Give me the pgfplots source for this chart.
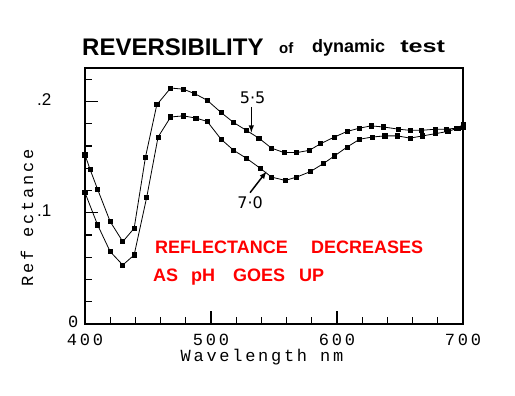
\documentclass[border=0pt]{standalone}
\usepackage{pgfplots}
\pgfplotsset{compat=1.18}
\usepackage{pgfplotstable}
\usepackage{fontspec}
\setmainfont{Liberation Sans}
\newfontfamily\dotfont[LetterSpace=16]{Liberation Mono}
\newfontfamily\numfont{DejaVu Sans}
\pgfplotstableread{
x y
400 0.152
404 0.139
410 0.121
420 0.092
430 0.074
439 0.086
448 0.150
457 0.197
468 0.212
478 0.211
487 0.207
497 0.201
508 0.190
518 0.181
528 0.174
538 0.167
548 0.158
558 0.154
568 0.154
578 0.156
587 0.162
598 0.168
608 0.173
618 0.176
627 0.178
637 0.177
649 0.175
658 0.174
667 0.174
678 0.175
687 0.175
695 0.176
700 0.179
}\phA
\pgfplotstableread{
x y
400 0.118
410 0.089
420 0.065
430 0.053
439 0.062
449 0.114
458 0.168
468 0.186
478 0.187
488 0.185
497 0.182
508 0.166
518 0.156
528 0.149
539 0.140
548 0.132
559 0.129
568 0.132
579 0.137
589 0.144
598 0.151
608 0.159
618 0.166
628 0.168
638 0.169
648 0.169
658 0.167
668 0.169
678 0.171
688 0.173
696 0.176
700 0.177
}\phB
\begin{document}
\begin{tikzpicture}
\useasboundingbox[fill=white] (0pt,0pt) rectangle (515pt,-396pt);
\begin{axis}[
  at={(85pt,-324pt)}, anchor=south west,
  scale only axis, width=378pt, height=256pt,
  xmin=400, xmax=700, ymin=0, ymax=0.23,
  axis line style={line width=2pt},
  tick pos=left, tick align=inside,
  ticklabel style={font=\dotfont\fontsize{17}{17}\selectfont, inner sep=0.5pt},
  xtick={400,500,600,700}, xticklabels={400,500,600,700},
  xticklabel style={yshift=-9pt},
  minor xtick={420,440,460,480,520,540,560,580,620,640,660,680},
  ytick={0}, yticklabels={0},
  yticklabel style={xshift=-6pt, yshift=2pt},
  extra y ticks={0.1,0.2}, extra y tick labels={.1,.2},
  extra y tick style={yticklabel style={xshift=-27pt, yshift=0pt, font=\fontsize{17}{17}\selectfont}},
  minor ytick={0.02,0.04,0.06,0.08,0.12,0.14,0.16,0.18,0.22},
  major tick length=13pt, minor tick length=7pt,
  every tick/.style={black, line width=1.2pt},
  clip=false,
]
\addplot[black, line width=0.8pt, mark=square*, mark size=2.1pt] table {\phA};
\addplot[black, line width=0.8pt, mark=square*, mark size=2.1pt] table {\phB};
\draw[-latex, line width=1.5pt] (axis cs:532,0.195) -- (axis cs:532,0.172);
\draw[-latex, line width=1.5pt] (axis cs:531,0.118) -- (axis cs:544,0.137);
\node[font=\numfont\fontsize{16}{16}\selectfont] at (axis cs:533,0.203) {5·5};
\node[font=\numfont\fontsize{16}{16}\selectfont] at (axis cs:531,0.109) {7·0};
\end{axis}
% title
\node[anchor=base west, font=\bfseries\fontsize{24}{24}\selectfont, inner sep=0pt] at (82pt,-56pt) {REVERSIBILITY};
\node[anchor=base west, font=\bfseries\fontsize{15}{15}\selectfont, inner sep=0pt] at (279pt,-54pt) {of};
\node[anchor=base west, font=\bfseries\fontsize{18}{18}\selectfont, inner sep=0pt] at (312pt,-53pt) {dynamic};
\node[anchor=base west, font=\bfseries\fontsize{18}{18}\selectfont, inner sep=0pt, xscale=1.4] at (400pt,-53pt) {test};
% axis labels
\node[font=\dotfont\fontsize{17}{17}\selectfont] at (262pt,-357pt) {Wavelength nm};
\node[rotate=90, font=\dotfont\fontsize{17}{17}\selectfont] at (27pt,-218pt) {Ref ectance};
% red note
\node[anchor=base west, text=red, font=\bfseries\fontsize{18}{18}\selectfont, inner sep=0pt] at (155pt,-254pt) {REFLECTANCE};
\node[anchor=base west, text=red, font=\bfseries\fontsize{18}{18}\selectfont, inner sep=0pt] at (311pt,-254pt) {DECREASES};
\node[anchor=base west, text=red, font=\bfseries\fontsize{18}{18}\selectfont, inner sep=0pt] at (153pt,-281pt) {AS};
\node[anchor=base west, text=red, font=\bfseries\fontsize{18}{18}\selectfont, inner sep=0pt] at (191pt,-281pt) {pH};
\node[anchor=base west, text=red, font=\bfseries\fontsize{18}{18}\selectfont, inner sep=0pt] at (233pt,-281pt) {GOES};
\node[anchor=base west, text=red, font=\bfseries\fontsize{18}{18}\selectfont, inner sep=0pt] at (299pt,-281pt) {UP};
\end{tikzpicture}
\end{document}
